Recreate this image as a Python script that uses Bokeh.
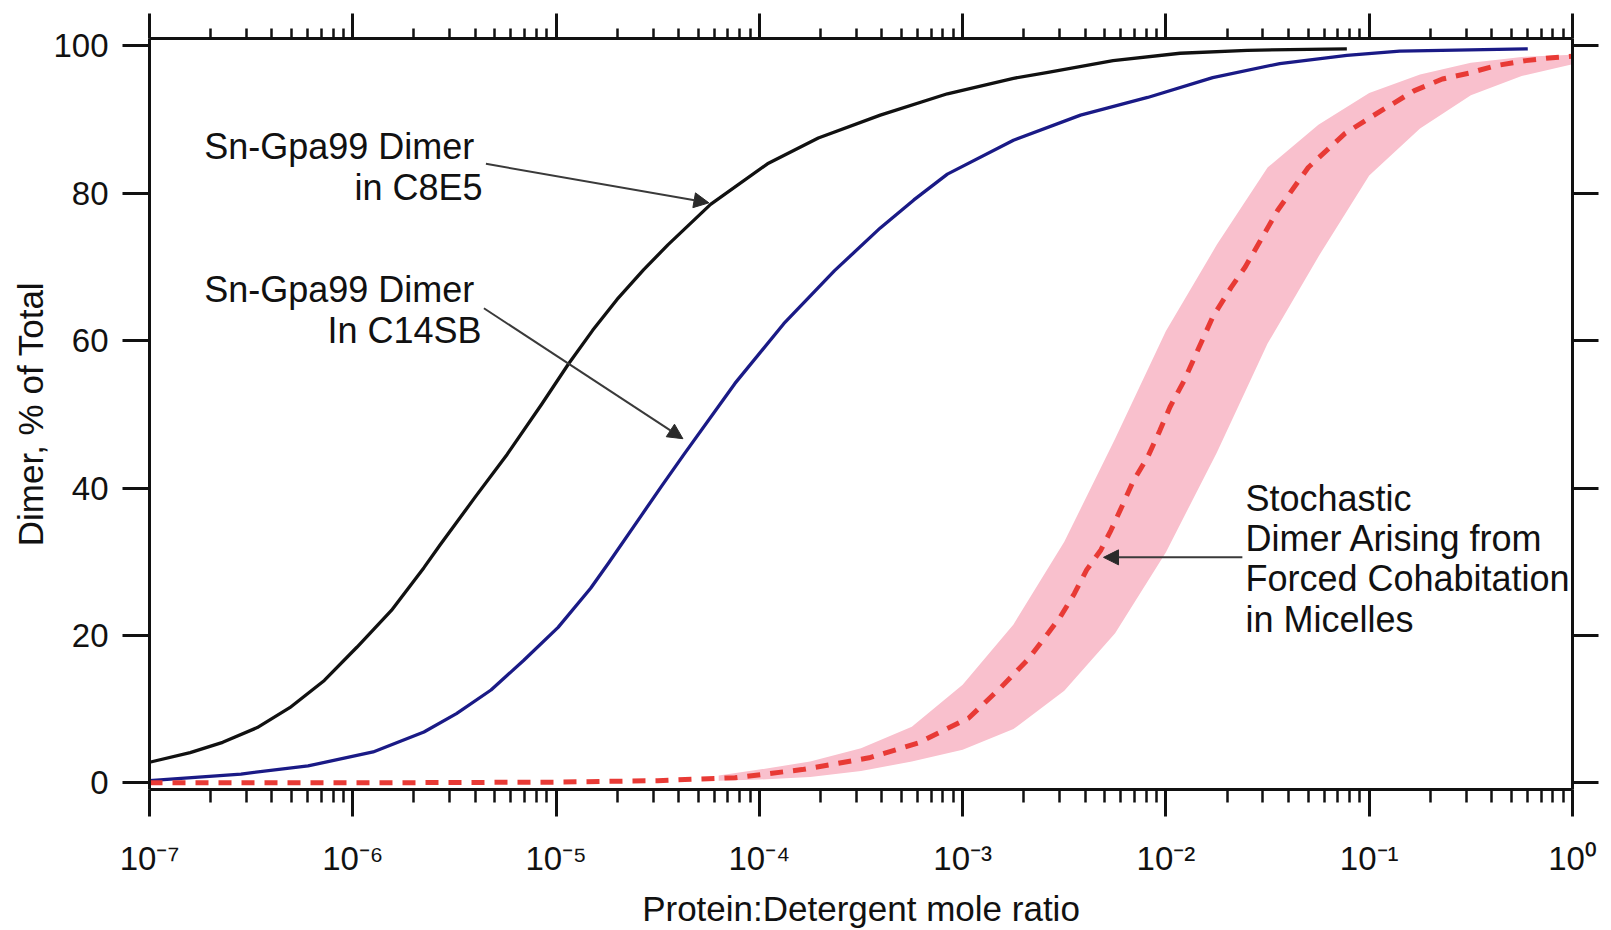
from bokeh.plotting import figure
from bokeh.models import (Range1d, FixedTicker, LogAxis, LinearAxis, CustomJSTickFormatter,
                          Label, Arrow, NormalHead, ColumnDataSource)
from bokeh.embed import file_html
from bokeh.resources import INLINE

FONT = "Liberation Sans"

# ---------------- data (x stored as log10 exponents of the mole ratio) ----------------
black_exp = [-7.0, -6.80, -6.64, -6.47, -6.31, -6.14, -5.98, -5.81, -5.65, -5.57, -5.40, -5.24,
             -5.07, -4.94, -4.82, -4.70, -4.57, -4.45, -4.24, -3.96, -3.71, -3.405, -3.075,
             -2.75, -2.58, -2.26, -1.93, -1.60, -1.11]
black_val = [2.8, 4.1, 5.5, 7.5, 10.2, 13.9, 18.4, 23.4, 29.2, 32.3, 38.7, 44.6,
             51.4, 56.8, 61.4, 65.6, 69.6, 73.0, 78.5, 84.0, 87.5, 90.6, 93.5,
             95.6, 96.4, 98.0, 99.0, 99.4, 99.6]

blue_exp = [-7.0, -6.55, -6.22, -5.90, -5.65, -5.49, -5.32, -5.16, -4.99, -4.83, -4.74, -4.58,
            -4.48, -4.37, -4.12, -3.88, -3.63, -3.405, -3.24, -3.075, -2.75, -2.42, -2.09,
            -1.77, -1.44, -1.11, -0.85, -0.22]
blue_val = [0.3, 1.2, 2.3, 4.2, 6.9, 9.4, 12.6, 16.6, 21.1, 26.4, 29.9, 36.3,
            40.3, 44.6, 54.2, 62.3, 69.5, 75.3, 79.1, 82.6, 87.2, 90.6, 93.0,
            95.7, 97.6, 98.7, 99.3, 99.6]

red_exp = [-7.0, -6.0, -5.0, -4.5, -4.12, -3.79, -3.46, -3.22, -2.97, -2.81, -2.68, -2.58,
           -2.52, -2.45, -2.39, -2.32, -2.27, -2.21, -2.16, -2.09, -2.03, -1.98, -1.91,
           -1.85, -1.77, -1.68, -1.61, -1.535, -1.45, -1.30, -1.12, -1.00, -0.78, -0.64,
           -0.51, -0.38, -0.23, -0.10, 0.0]
red_val = [0.0, 0.0, 0.1, 0.3, 0.7, 1.8, 3.4, 5.4, 8.8, 13.0, 16.7, 20.3,
           22.5, 25.7, 28.9, 31.6, 34.3, 37.9, 41.0, 44.2, 47.8, 51.0, 54.6,
           58.3, 63.2, 67.2, 70.0, 73.6, 77.7, 83.5, 88.1, 90.2, 93.9, 95.5,
           96.3, 97.3, 98.0, 98.4, 98.6]

band_exp = [-4.2, -4.0, -3.75, -3.5, -3.25, -3.0, -2.75, -2.5, -2.25, -2.0, -1.75, -1.5,
            -1.25, -1.0, -0.75, -0.5, -0.25, 0.0]
band_upper = [1.0, 1.8, 2.9, 4.7, 7.6, 13.3, 21.5, 32.7, 46.7, 61.3, 73.0, 83.5,
              89.3, 93.6, 96.1, 97.7, 98.5, 98.8]
band_lower = [0.3, 0.45, 0.8, 1.6, 2.9, 4.5, 7.3, 12.5, 20.3, 31.3, 44.8, 59.6,
              71.4, 82.4, 88.8, 93.3, 95.9, 97.5]

x_ticks = [1e-7, 1e-6, 1e-5, 1e-4, 1e-3, 1e-2, 1e-1, 1e0]
x_tick_labels = ["10\u207b\u2077", "10\u207b\u2076", "10\u207b\u2075", "10\u207b\u2074",
                 "10\u207b\u00b3", "10\u207b\u00b2", "10\u207b\u00b9", "10\u2070"]
y_ticks = [0, 20, 40, 60, 80, 100]

x_title = "Protein:Detergent mole ratio"
y_title = "Dimer, % of Total"

# annotation text lines: (text, anchor exponent, baseline value, align)
ann_lines = [("Sn-Gpa99 Dimer", -5.402, 86.3, "right"),
             ("in C8E5", -5.362, 80.8, "right"),
             ("Sn-Gpa99 Dimer", -5.402, 67.0, "right"),
             ("In C14SB", -5.367, 61.4, "right"),
             ("Stochastic", -1.609, 38.6, "left"),
             ("Dimer Arising from", -1.609, 33.2, "left"),
             ("Forced Cohabitation", -1.609, 27.7, "left"),
             ("in Micelles", -1.609, 22.2, "left")]

# arrows: (start_exp, start_y, end_exp, end_y)
arrows = [(-5.345, 84.0, -4.248, 78.7),
          (-5.355, 64.4, -4.376, 46.7),
          (-1.624, 30.6, -2.307, 30.6)]


def tx(exps):
    return [10 ** e for e in exps]


x_minor = [m * 10 ** k for k in range(-7, 0) for m in range(2, 10)]

p = figure(width=1611, height=930, x_axis_type="log",
           x_range=Range1d(1e-7, 1.0), y_range=Range1d(-0.9, 101.0),
           output_backend="svg", toolbar_location=None,
           min_border_left=149, min_border_right=39, min_border_top=38, min_border_bottom=141)
p.outline_line_color = None
p.xgrid.visible = False
p.ygrid.visible = False
p.background_fill_color = "white"
p.border_fill_color = "white"

fmt_x = CustomJSTickFormatter(args=dict(tvals=x_ticks, tlabels=x_tick_labels), code="""
let best = 0, bd = Infinity;
for (let i = 0; i < tvals.length; i++) {
  const d = Math.abs(Math.log10(tick) - Math.log10(tvals[i]));
  if (d < bd) { bd = d; best = i; }
}
return tlabels[best];
""")
blank = CustomJSTickFormatter(code="return '';")


def style_axis(ax):
    ax.axis_line_width = 3
    ax.axis_line_color = "#111111"
    ax.major_tick_line_width = 3
    ax.major_tick_line_color = "#111111"
    ax.minor_tick_line_width = 2.5
    ax.minor_tick_line_color = "#111111"
    ax.major_tick_in = 0
    ax.minor_tick_in = 0
    ax.major_label_text_font = FONT
    ax.major_label_text_color = "#111111"
    ax.axis_label_text_font = FONT
    ax.axis_label_text_font_style = "normal"
    ax.axis_label_text_color = "#111111"


# bottom axis
xb = p.xaxis[0]
style_axis(xb)
xb.ticker = FixedTicker(ticks=x_ticks, minor_ticks=x_minor)
xb.formatter = fmt_x
xb.major_tick_out = 27
xb.minor_tick_out = 13
xb.major_label_text_font_size = "33px"
xb.major_label_standoff = 23
xb.axis_label = x_title
xb.axis_label_text_font_size = "35px"
xb.axis_label_standoff = 9

# top axis
xt = LogAxis(ticker=FixedTicker(ticks=x_ticks, minor_ticks=x_minor), formatter=blank)
style_axis(xt)
xt.major_tick_out = 25
xt.minor_tick_out = 10
xt.major_label_text_font_size = "0px"
xt.major_label_standoff = 0
p.add_layout(xt, "above")

# left axis
yl = p.yaxis[0]
style_axis(yl)
yl.ticker = FixedTicker(ticks=y_ticks, minor_ticks=[])
yl.major_tick_out = 27
yl.minor_tick_out = 0
yl.minor_tick_line_color = None
yl.major_label_text_font_size = "33px"
yl.major_label_standoff = 14
yl.axis_label = y_title
yl.axis_label_text_font_size = "35px"
yl.axis_label_standoff = 0

# right axis
yr = LinearAxis(ticker=FixedTicker(ticks=y_ticks, minor_ticks=[]), formatter=blank)
style_axis(yr)
yr.major_tick_out = 26
yr.minor_tick_out = 0
yr.minor_tick_line_color = None
yr.major_label_text_font_size = "0px"
yr.major_label_standoff = 0
p.add_layout(yr, "right")

# band
band_src = ColumnDataSource(dict(x=tx(band_exp), lo=band_lower, hi=band_upper))
p.varea(x="x", y1="lo", y2="hi", source=band_src, fill_color="#f9c0cd", fill_alpha=1.0)

# curves
p.line(tx(black_exp), black_val, line_color="#111111", line_width=3.3, line_join="round")
p.line(tx(blue_exp), blue_val, line_color="#1a1a86", line_width=3.3, line_join="round")
p.line(tx(red_exp), red_val, line_color="#e83a35", line_width=5, line_dash="13 10")

# annotations
for t, e, yv, align in ann_lines:
    p.add_layout(Label(x=10 ** e, y=yv, text=t, text_align=align, text_baseline="alphabetic",
                       text_font=FONT, text_font_size="36px", text_color="#111111"))

for (se, sy, ee, ey) in arrows:
    p.add_layout(Arrow(x_start=10 ** se, y_start=sy, x_end=10 ** ee, y_end=ey,
                       line_color="#3a3a3a", line_width=2,
                       end=NormalHead(size=15, fill_color="#2a2a2a", line_color="#2a2a2a", line_width=1)))

open("out.html", "w").write(file_html(p, INLINE))
